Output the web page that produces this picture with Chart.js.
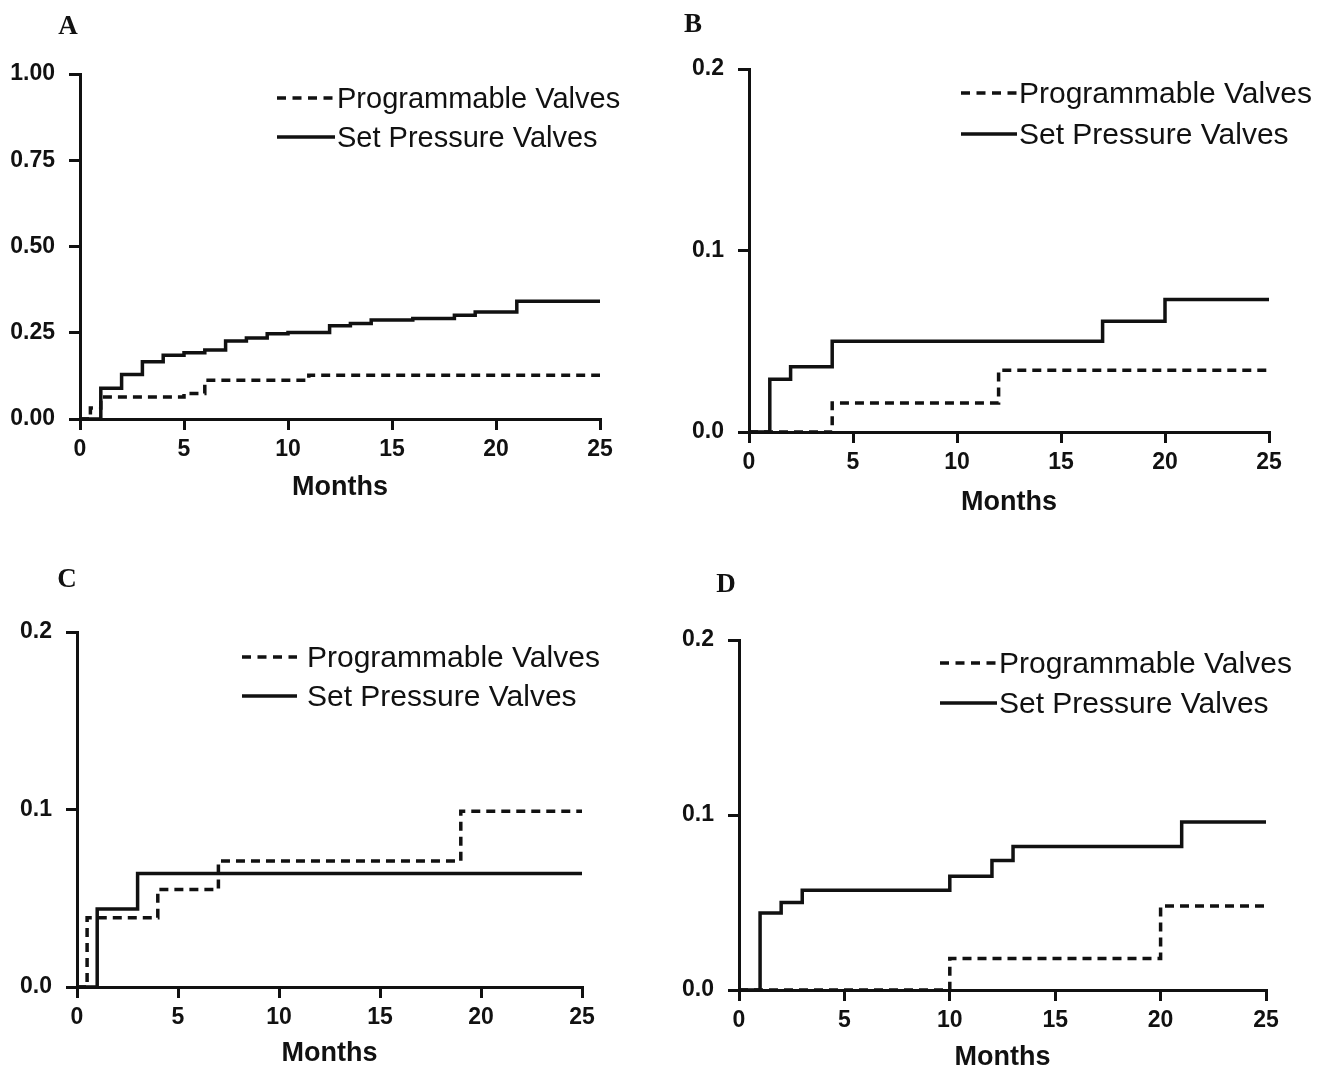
<!DOCTYPE html>
<html>
<head>
<meta charset="utf-8">
<script src="https://cdn.jsdelivr.net/npm/chart.js@4.4.0/dist/chart.umd.min.js"></script>
<style>
  body { margin: 0; background: #fff; width: 1336px; height: 1073px; position: relative; overflow: hidden;
         font-family: "Liberation Sans", Arial, sans-serif; color: #111; }
  canvas { position: absolute; left: 0; top: 0; }
  .letter { position: absolute; font-family: "Liberation Serif", "Times New Roman", serif; font-weight: bold;
            font-size: 27px; line-height: 1; transform: translate(-50%, -50%); }
  .row { position: absolute; height: 40px; display: flex; align-items: center; white-space: nowrap; line-height: 1; }
  .row svg { display: block; }
</style>
</head>
<body>
<canvas id="cA" width="1336" height="1073"></canvas>
<canvas id="cB" width="1336" height="1073"></canvas>
<canvas id="cC" width="1336" height="1073"></canvas>
<canvas id="cD" width="1336" height="1073"></canvas>
<div id="labels"></div>
<script>
// Panel A - step times (months) and cumulative values
var aProgT = [0, 0.5, 1, 5, 6, 11, 25];
var aProgY = [0, 0.032, 0.064, 0.074, 0.112, 0.127, 0.127];
var aSetT = [0, 1, 2, 3, 4, 5, 6, 7, 8, 9, 10, 12, 13, 14, 16, 18, 19, 21, 25];
var aSetY = [0, 0.089, 0.129, 0.166, 0.185, 0.192, 0.200, 0.226, 0.235, 0.247, 0.251, 0.270, 0.277, 0.287, 0.291, 0.301, 0.310, 0.341, 0.341];

// Panel B
var bProgT = [0, 4, 12, 25];
var bProgY = [0, 0.016, 0.034, 0.034];
var bSetT = [0, 1, 2, 4, 17, 20, 25];
var bSetY = [0, 0.029, 0.036, 0.050, 0.061, 0.073, 0.073];

// Panel C
var cProgT = [0, 0.5, 4, 7, 19, 25];
var cProgY = [0, 0.039, 0.055, 0.071, 0.099, 0.099];
var cSetT = [0, 1, 3, 25];
var cSetY = [0, 0.044, 0.064, 0.064];

// Panel D
var dProgT = [0, 10, 20, 25];
var dProgY = [0, 0.018, 0.048, 0.048];
var dSetT = [0, 1, 2, 3, 10, 12, 13, 21, 25];
var dSetY = [0, 0.044, 0.050, 0.057, 0.065, 0.074, 0.082, 0.096, 0.096];

// Tick labels
var xTicks = [0, 5, 10, 15, 20, 25];
var yTicksA = [0, 0.25, 0.5, 0.75, 1];
var yTicksSmall = [0, 0.1, 0.2];

var seriesNames = ['Programmable Valves', 'Set Pressure Valves'];
var xTitle = 'Months';

var INK = '#111';
var PAGE_W = 1336, PAGE_H = 1073;
var Y_W = 80, X_H = 90;
var TITLE_SIZE = 27;

function steps(t, y) {
  return t.map(function(v, i) { return { x: v, y: y[i] }; });
}

function makePanel(p) {
  var titlePad = X_H - (p.monthsY - p.bottom) - TITLE_SIZE * 1.2 / 2;
  var axisGrid = { display: true, drawOnChartArea: false, drawTicks: true, tickLength: 11, color: INK, lineWidth: 3 };
  var axisBorder = { display: true, color: INK, width: 3 };
  var tickFont = { family: "'Liberation Sans', Arial, sans-serif", size: 23, weight: 'bold' };

  new Chart(document.getElementById(p.id), {
    type: 'line',
    data: {
      datasets: [{
        label: seriesNames[0],
        data: steps(p.progT, p.progY),
        borderDash: [9, 6]
      }, {
        label: seriesNames[1],
        data: steps(p.setT, p.setY)
      }]
    },
    options: {
      responsive: false,
      animation: false,
      devicePixelRatio: 1,
      layout: {
        autoPadding: false,
        padding: { left: p.left - Y_W, top: p.top, right: PAGE_W - p.right, bottom: PAGE_H - p.bottom - X_H }
      },
      plugins: { legend: { display: false }, tooltip: { enabled: false } },
      elements: {
        point: { radius: 0 },
        line: { borderWidth: 3.5, borderColor: INK, stepped: true, tension: 0, fill: false }
      },
      datasets: { line: { clip: 6 } },
      scales: {
        x: {
          type: 'linear', min: 0, max: 25,
          afterBuildTicks: function(s) { s.ticks = xTicks.map(function(v) { return { value: v }; }); },
          afterFit: function(s) { s.height = X_H; },
          grid: axisGrid, border: axisBorder,
          ticks: { color: INK, font: tickFont, padding: 6, maxRotation: 0 },
          title: { display: true, text: xTitle, color: INK,
                   font: { family: "'Liberation Sans', Arial, sans-serif", size: TITLE_SIZE, weight: 'bold' },
                   padding: { top: 0, bottom: titlePad } }
        },
        y: {
          type: 'linear', min: 0, max: p.yMax,
          afterBuildTicks: function(s) { s.ticks = p.yTicks.map(function(v) { return { value: v }; }); },
          afterFit: function(s) { s.width = Y_W; },
          grid: axisGrid, border: axisBorder,
          ticks: { color: INK, font: tickFont, padding: 14,
                   callback: function(v) { return Number(v).toFixed(p.dec); } }
        }
      }
    }
  });

  // panel letter and legend
  var host = document.getElementById('labels');
  var letter = document.createElement('div');
  letter.className = 'letter';
  letter.textContent = p.letter;
  letter.style.left = p.letterX + 'px';
  letter.style.top = p.letterY + 'px';
  host.appendChild(letter);

  seriesNames.forEach(function(name, i) {
    var row = document.createElement('div');
    row.className = 'row';
    row.style.left = p.legX + 'px';
    row.style.top = (p.legY[i] - 20) + 'px';
    row.style.fontSize = p.legFont + 'px';
    var dash = i === 0 ? ' stroke-dasharray="9 6.5"' : '';
    row.innerHTML = '<svg width="' + p.legW + '" height="6"><line x1="0" y1="3" x2="' + p.legW +
      '" y2="3" stroke="' + INK + '" stroke-width="3.5"' + dash + '/></svg>' +
      '<span style="margin-left:' + p.legGap + 'px">' + name + '</span>';
    host.appendChild(row);
  });
}

makePanel({ id: 'cA', left: 80, top: 74, right: 600, bottom: 419, monthsY: 488, yMax: 1, yTicks: yTicksA, dec: 2,
  progT: aProgT, progY: aProgY, setT: aSetT, setY: aSetY,
  letter: 'A', letterX: 68, letterY: 25, legX: 277, legW: 58, legGap: 2, legY: [98, 137], legFont: 29 });
makePanel({ id: 'cB', left: 749, top: 69, right: 1269, bottom: 432, monthsY: 503, yMax: 0.2, yTicks: yTicksSmall, dec: 1,
  progT: bProgT, progY: bProgY, setT: bSetT, setY: bSetY,
  letter: 'B', letterX: 693, letterY: 23, legX: 961, legW: 56, legGap: 2, legY: [93, 134], legFont: 30 });
makePanel({ id: 'cC', left: 77, top: 632, right: 582, bottom: 987, monthsY: 1054, yMax: 0.2, yTicks: yTicksSmall, dec: 1,
  progT: cProgT, progY: cProgY, setT: cSetT, setY: cSetY,
  letter: 'C', letterX: 67, letterY: 578, legX: 242, legW: 55, legGap: 10, legY: [657, 696], legFont: 30 });
makePanel({ id: 'cD', left: 739, top: 640, right: 1266, bottom: 990, monthsY: 1058, yMax: 0.2, yTicks: yTicksSmall, dec: 1,
  progT: dProgT, progY: dProgY, setT: dSetT, setY: dSetY,
  letter: 'D', letterX: 726, letterY: 583, legX: 940, legW: 57, legGap: 2, legY: [663, 703], legFont: 30 });
</script>
</body>
</html>
